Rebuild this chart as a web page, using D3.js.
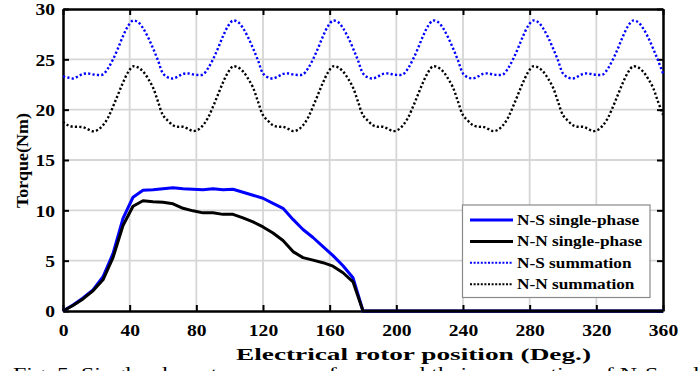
<!DOCTYPE html>
<html><head><meta charset="utf-8">
<script src="https://cdn.jsdelivr.net/npm/d3@7"></script>
<style>body{margin:0;background:#fff}svg{display:block}</style>
</head><body>
<svg id="chart" width="699" height="371"></svg>
<script>
// ---------- data ----------
const xTicks = [0, 40, 80, 120, 160, 200, 240, 280, 320, 360];
const yTicks = [0, 5, 10, 15, 20, 25, 30];
const seriesNames = ["N-S single-phase", "N-N single-phase", "N-S summation", "N-N summation"];

// single-phase torque (deg, Nm)
const singlePos = [0,6,12,18,24,30,36,42,48,54,60,66,72,78,84,90,96,102,108,114,120,126,132,138,144,150,156,162,168,174,180,360];
const nsSingle = [0,0.6,1.3,2.1,3.4,5.7,9.2,11.3,12.0,12.05,12.15,12.25,12.15,12.1,12.05,12.15,12.05,12.1,11.8,11.5,11.2,10.7,10.2,9.1,8.1,7.3,6.4,5.5,4.5,3.3,0,0];
const nnSingle = [0,0.55,1.2,2.0,3.1,5.3,8.5,10.4,10.95,10.85,10.8,10.65,10.2,9.95,9.75,9.75,9.6,9.6,9.25,8.85,8.35,7.75,7.0,5.9,5.3,5.05,4.8,4.45,3.8,2.9,0,0];

// summation torque, sampled every 3 deg from 0 to 360
const sumPos = d3.range(0, 361, 3);
const nsSum = [
 23.3,23.2,23.1,23.3,23.55,23.6,23.5,23.45,23.5,24.1,25.0,26.1,27.3,28.3,28.85,28.7,28.1,27.2,26.1,24.9,
 23.6,23.2,23.1,23.3,23.55,23.6,23.5,23.45,23.5,24.1,25.0,26.1,27.3,28.3,28.85,28.7,28.1,27.2,26.1,24.9,
 23.6,23.2,23.1,23.3,23.55,23.6,23.5,23.45,23.5,24.1,25.0,26.1,27.3,28.3,28.85,28.7,28.1,27.2,26.1,24.9,
 23.6,23.2,23.1,23.3,23.55,23.6,23.5,23.45,23.5,24.1,25.0,26.1,27.3,28.3,28.85,28.7,28.1,27.2,26.1,24.9,
 23.6,23.2,23.1,23.3,23.55,23.6,23.5,23.45,23.5,24.1,25.0,26.1,27.3,28.3,28.85,28.7,28.1,27.2,26.1,24.9,
 23.6,23.2,23.1,23.3,23.55,23.6,23.5,23.45,23.5,24.1,25.0,26.1,27.3,28.3,28.85,28.7,28.1,27.2,26.1,24.9,
 23.6];
const nnSum = [
 18.8,18.45,18.3,18.3,18.25,18.05,17.85,18.0,18.45,19.2,20.3,21.5,22.7,23.7,24.3,24.2,23.8,23.1,22.2,20.8,
 19.45,18.9,18.45,18.3,18.3,18.1,17.87,18.0,18.45,19.2,20.3,21.5,22.7,23.7,24.3,24.2,23.8,23.1,22.2,20.8,
 19.45,18.9,18.45,18.3,18.3,18.1,17.87,18.0,18.45,19.2,20.3,21.5,22.7,23.7,24.3,24.2,23.8,23.1,22.2,20.8,
 19.45,18.9,18.45,18.3,18.3,18.1,17.87,18.0,18.45,19.2,20.3,21.5,22.7,23.7,24.3,24.2,23.8,23.1,22.2,20.8,
 19.45,18.9,18.45,18.3,18.3,18.1,17.87,18.0,18.45,19.2,20.3,21.5,22.7,23.7,24.3,24.2,23.8,23.1,22.2,20.8,
 19.45,18.9,18.45,18.3,18.3,18.1,17.87,18.0,18.45,19.2,20.3,21.5,22.7,23.7,24.3,24.2,23.8,23.1,22.2,20.8,
 19.5];

const xTitle = "Electrical rotor position (Deg.)";
const yTitle = "Torque(Nm)";
const caption = "Fig. 5. Single-phase torque waveforms and their summation of N-S and";

// ---------- layout ----------
const L = 63, R = 663, T = 9, B = 311;
const STRETCH = 1.15;
const FONT = '"Liberation Serif"';
const svg = d3.select("#chart");
const x = d3.scaleLinear().domain([0, 360]).range([L, R]);
const y = d3.scaleLinear().domain([0, 30]).range([B, T]);

function font(sel, size, bold) {
  return sel.style("font-family", FONT).style("font-size", size + "px")
    .style("font-weight", bold ? "bold" : "normal").attr("fill", "#000");
}
function stretch(sel, factor) {
  sel.each(function () {
    const w = this.getComputedTextLength();
    d3.select(this).attr("textLength", w * factor).attr("lengthAdjust", "spacingAndGlyphs");
  });
}

// grid
const grid = svg.append("g").attr("stroke", "#d6d6d6").attr("stroke-width", 1.8);
grid.selectAll("line.v").data(xTicks.slice(1, -1)).join("line")
  .attr("x1", d => x(d)).attr("x2", d => x(d)).attr("y1", T).attr("y2", B);
grid.selectAll("line.h").data(yTicks.slice(1, -1)).join("line")
  .attr("y1", d => y(d)).attr("y2", d => y(d)).attr("x1", L).attr("x2", R);

// axes (inward ticks)
function styleAxis(g) {
  g.select(".domain").attr("stroke", "#000").attr("stroke-width", 2.5);
  g.selectAll(".tick line").attr("stroke", "#000").attr("stroke-width", 2);
}
const axB = svg.append("g").attr("transform", `translate(0,${B})`)
  .call(d3.axisBottom(x).tickValues(xTicks).tickSizeInner(-6).tickSizeOuter(0).tickPadding(13).tickFormat(d3.format("d")));
const axT = svg.append("g").attr("transform", `translate(0,${T})`)
  .call(d3.axisTop(x).tickValues(xTicks).tickSizeInner(-6).tickSizeOuter(0).tickFormat(""));
const axL = svg.append("g").attr("transform", `translate(${L},0)`)
  .call(d3.axisLeft(y).tickValues(yTicks).tickSizeInner(-6).tickSizeOuter(0).tickPadding(14).tickFormat(d3.format("d")));
const axR = svg.append("g").attr("transform", `translate(${R},0)`)
  .call(d3.axisRight(y).tickValues(yTicks).tickSizeInner(-6).tickSizeOuter(0).tickFormat(""));
[axB, axT, axL, axR].forEach(styleAxis);
[axB, axL].forEach(a => font(a.selectAll(".tick text"), 17, true));
axB.selectAll(".tick text").attr("dy", "0.71em");
stretch(axB.selectAll(".tick text"), STRETCH);
stretch(axL.selectAll(".tick text"), STRETCH);
axL.selectAll(".tick text").attr("x", -8).attr("dy", "0.34em");

// lines
const lineLin = d3.line().x(d => x(d[0])).y(d => y(d[1]));
const lineSmooth = d3.line().x(d => x(d[0])).y(d => y(d[1])).curve(d3.curveCatmullRom.alpha(0.5));
const zip = (a, b) => a.map((v, i) => [v, b[i]]);

svg.append("path").datum(zip(sumPos, nsSum)).attr("d", lineSmooth)
  .attr("fill", "none").attr("stroke", "#0000ff").attr("stroke-width", 2.4).attr("stroke-dasharray", "2.2,2.2");
svg.append("path").datum(zip(sumPos, nnSum)).attr("d", lineSmooth)
  .attr("fill", "none").attr("stroke", "#000").attr("stroke-width", 2.4).attr("stroke-dasharray", "2.2,2.2");
svg.append("path").datum(zip(singlePos, nsSingle)).attr("d", lineLin)
  .attr("fill", "none").attr("stroke", "#0000ff").attr("stroke-width", 3).attr("stroke-linejoin", "round");
svg.append("path").datum(zip(singlePos, nnSingle)).attr("d", lineLin)
  .attr("fill", "none").attr("stroke", "#000").attr("stroke-width", 3).attr("stroke-linejoin", "round");

// legend
const lg = svg.append("g");
lg.append("rect").attr("x", 462.5).attr("y", 205).attr("width", 187.5).attr("height", 92.5)
  .attr("fill", "#fff").attr("stroke", "#8a8a8a").attr("stroke-width", 1.2);
const lgStyles = [
  {c: "#0000ff", dash: null, w: 3},
  {c: "#000", dash: null, w: 3},
  {c: "#0000ff", dash: "2,1.6", w: 2},
  {c: "#000", dash: "2,1.6", w: 2}
];
seriesNames.forEach((name, i) => {
  const by = 225 + i * 21.4;
  lg.append("line").attr("x1", 470).attr("x2", 513).attr("y1", by - 5).attr("y2", by - 5)
    .attr("stroke", lgStyles[i].c).attr("stroke-width", lgStyles[i].w)
    .attr("stroke-dasharray", lgStyles[i].dash);
  font(lg.append("text").attr("x", 517).attr("y", by).text(name), 15, true);
});
stretch(lg.selectAll("text"), STRETCH);

// titles
font(svg.append("text").attr("x", 236).attr("y", 359.5).text(xTitle), 17, true)
  .attr("textLength", 355).attr("lengthAdjust", "spacingAndGlyphs");
font(svg.append("text").attr("transform", "translate(28,160.5) rotate(-90)").attr("text-anchor", "middle")
  .text(yTitle), 17, true)
  .attr("textLength", 95).attr("lengthAdjust", "spacingAndGlyphs");

// caption (cut off at bottom, as in the source figure)
font(svg.append("text").attr("x", 13).attr("y", 378.5).text(caption), 17, false)
  .attr("textLength", 686).attr("lengthAdjust", "spacingAndGlyphs");
</script>
</body></html>
